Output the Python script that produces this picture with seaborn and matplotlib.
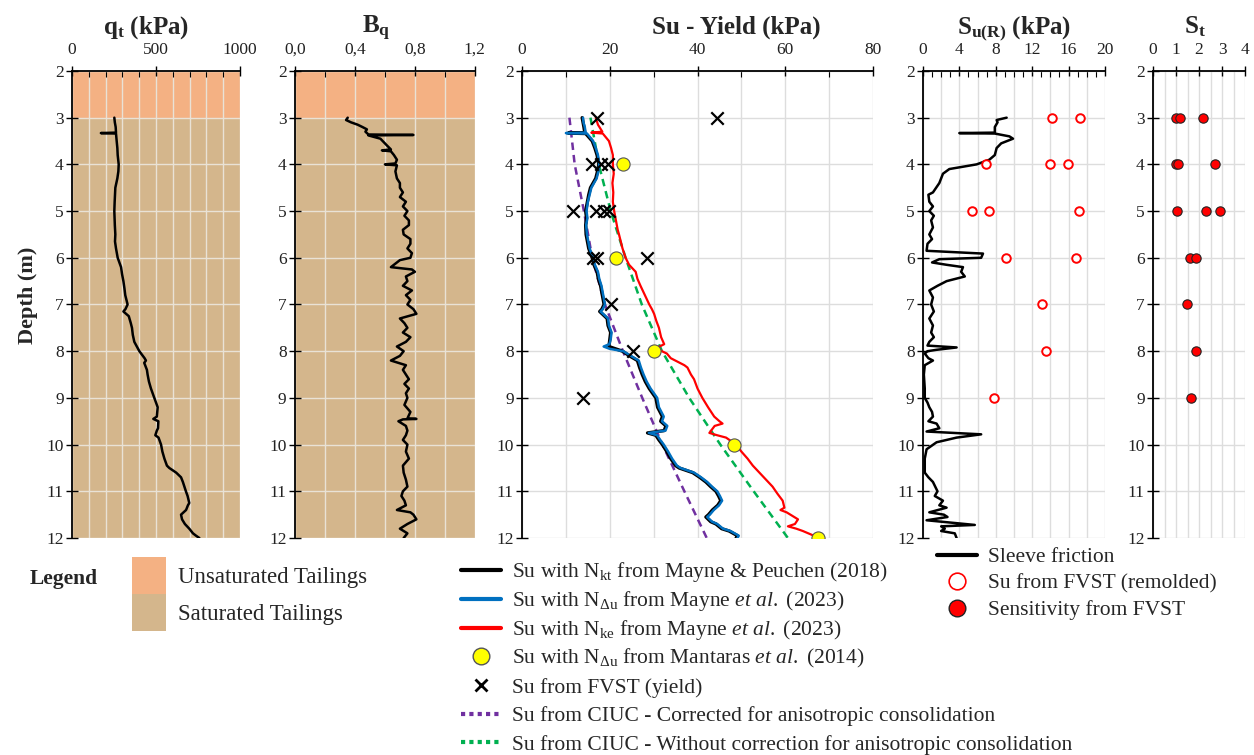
import matplotlib
matplotlib.use('Agg')
import matplotlib.pyplot as plt
import seaborn as sns
import numpy as np
from matplotlib.lines import Line2D
from matplotlib.patches import Patch

# ---- data (depth in m, value) ----
qt_kpa = [(3.0, 252), (3.1, 255), (3.2, 260), (3.32, 262), (3.33, 172), (3.34, 262), (3.5, 266),
          (3.65, 270), (3.8, 272), (4.0, 278), (4.15, 276), (4.3, 270), (4.5, 258), (4.8, 254),
          (5.0, 252), (5.3, 255), (5.5, 258), (5.65, 256), (5.8, 262), (6.0, 272), (6.2, 292),
          (6.35, 298), (6.5, 306), (6.65, 312), (6.8, 317), (7.0, 331), (7.1, 318), (7.15, 306),
          (7.25, 338), (7.4, 350), (7.5, 357), (7.65, 362), (7.8, 371), (8.0, 401), (8.15, 432),
          (8.2, 440), (8.25, 430), (8.4, 446), (8.5, 450), (8.65, 458), (8.8, 470), (9.0, 490),
          (9.2, 510), (9.4, 505), (9.45, 484), (9.5, 514), (9.65, 512), (9.7, 505), (9.8, 496),
          (9.85, 515), (10.0, 530), (10.15, 538), (10.3, 550), (10.45, 565), (10.5, 579),
          (10.6, 620), (10.7, 649), (10.8, 660), (10.9, 669), (11.0, 678), (11.1, 688),
          (11.25, 698), (11.3, 690), (11.4, 679), (11.5, 649), (11.6, 655), (11.7, 672),
          (11.8, 698), (11.9, 720), (11.95, 738), (12.0, 758)]

bq = [(3.0, 0.352), (3.05, 0.341), (3.1, 0.374), (3.15, 0.418), (3.2, 0.45), (3.25, 0.48),
      (3.3, 0.47), (3.36, 0.49), (3.37, 0.79), (3.38, 0.49), (3.45, 0.57), (3.55, 0.60),
      (3.6, 0.615), (3.68, 0.64), (3.7, 0.58), (3.72, 0.64), (3.8, 0.66), (3.9, 0.68),
      (3.98, 0.67), (4.0, 0.60), (4.02, 0.68), (4.15, 0.67), (4.3, 0.68), (4.4, 0.70),
      (4.5, 0.70), (4.6, 0.72), (4.7, 0.70), (4.8, 0.74), (4.9, 0.72), (5.0, 0.75),
      (5.1, 0.73), (5.2, 0.76), (5.3, 0.76), (5.4, 0.72), (5.5, 0.725), (5.6, 0.77),
      (5.7, 0.77), (5.8, 0.75), (5.9, 0.78), (6.0, 0.77), (6.05, 0.70), (6.1, 0.68),
      (6.15, 0.66), (6.2, 0.64), (6.25, 0.78), (6.3, 0.80), (6.4, 0.74), (6.5, 0.75),
      (6.6, 0.72), (6.7, 0.78), (6.8, 0.74), (6.9, 0.77), (7.0, 0.75), (7.1, 0.79),
      (7.2, 0.81), (7.3, 0.70), (7.4, 0.73), (7.5, 0.75), (7.6, 0.72), (7.7, 0.77),
      (7.8, 0.74), (7.9, 0.68), (8.0, 0.725), (8.1, 0.70), (8.2, 0.64), (8.3, 0.74),
      (8.4, 0.72), (8.5, 0.74), (8.6, 0.76), (8.7, 0.73), (8.8, 0.76), (8.9, 0.74),
      (9.0, 0.75), (9.15, 0.73), (9.3, 0.77), (9.44, 0.75), (9.45, 0.81), (9.46, 0.72),
      (9.5, 0.69), (9.6, 0.74), (9.7, 0.75), (9.8, 0.74), (9.9, 0.72), (10.0, 0.75),
      (10.15, 0.74), (10.3, 0.76), (10.45, 0.72), (10.6, 0.725), (10.75, 0.74), (10.9, 0.75),
      (11.0, 0.72), (11.1, 0.71), (11.2, 0.73), (11.3, 0.74), (11.4, 0.68), (11.45, 0.77),
      (11.5, 0.79), (11.6, 0.81), (11.65, 0.78), (11.7, 0.75), (11.8, 0.70), (11.9, 0.75),
      (12.0, 0.725)]

su_nkt = [(3.0, 13.7), (3.1, 13.9), (3.2, 14.1), (3.32, 14.3), (3.33, 10.5), (3.34, 14.5),
          (3.5, 16.0), (3.65, 16.6), (3.8, 17.1), (4.0, 17.5), (4.15, 17.2), (4.3, 16.8),
          (4.5, 15.6), (4.65, 15.2), (4.8, 14.9), (5.0, 14.5), (5.15, 14.7), (5.3, 14.5),
          (5.5, 14.6), (5.65, 14.9), (5.8, 15.2), (6.0, 16.0), (6.15, 16.4), (6.3, 17.1),
          (6.45, 17.4), (6.6, 17.9), (6.8, 18.3), (7.0, 18.7), (7.1, 18.2), (7.15, 17.7),
          (7.3, 19.4), (7.45, 19.6), (7.6, 20.2), (7.75, 20.0), (7.9, 19.8), (8.0, 22.9),
          (8.1, 24.5), (8.2, 26.3), (8.35, 26.8), (8.5, 27.4), (8.65, 28.1), (8.8, 29.0),
          (9.0, 30.5), (9.2, 30.9), (9.4, 32.0), (9.5, 31.6), (9.6, 32.8), (9.7, 32.4),
          (9.75, 28.6), (9.8, 30.5), (9.9, 31.2), (10.0, 32.0), (10.15, 33.0), (10.3, 33.9),
          (10.45, 35.0), (10.5, 35.8), (10.6, 38.9), (10.7, 40.5), (10.8, 41.9), (10.9, 43.0),
          (11.0, 44.2), (11.1, 44.8), (11.2, 45.3), (11.3, 44.6), (11.4, 43.4), (11.5, 42.5),
          (11.55, 41.9), (11.65, 43.0), (11.7, 44.2), (11.8, 45.5), (11.85, 47.2),
          (11.95, 49.1), (12.0, 48.8)]

su_ndu = [(3.0, 13.9), (3.1, 14.0), (3.2, 14.3), (3.32, 14.5), (3.33, 10.0), (3.34, 14.8),
          (3.5, 16.2), (3.65, 16.8), (3.8, 17.3), (4.0, 17.6), (4.15, 17.4), (4.3, 17.0),
          (4.5, 15.8), (4.65, 15.4), (4.8, 15.0), (5.0, 14.7), (5.15, 14.9), (5.3, 14.6),
          (5.5, 14.8), (5.65, 15.1), (5.8, 15.4), (6.0, 16.2), (6.15, 16.6), (6.3, 17.3),
          (6.45, 17.6), (6.6, 18.1), (6.8, 18.5), (7.0, 18.9), (7.1, 18.4), (7.15, 17.9),
          (7.3, 19.6), (7.45, 19.8), (7.6, 20.4), (7.75, 20.2), (7.85, 19.9), (7.9, 18.6),
          (7.95, 20.0), (8.0, 23.1), (8.1, 24.8), (8.2, 26.6), (8.35, 27.1), (8.5, 27.7),
          (8.65, 28.4), (8.8, 29.3), (9.0, 30.8), (9.2, 31.2), (9.4, 32.3), (9.5, 31.9),
          (9.6, 33.1), (9.7, 32.7), (9.75, 28.9), (9.8, 30.8), (9.9, 31.5), (10.0, 32.3),
          (10.15, 33.3), (10.3, 34.2), (10.45, 35.3), (10.5, 36.1), (10.6, 39.2), (10.7, 40.8),
          (10.8, 42.2), (10.9, 43.3), (11.0, 44.5), (11.1, 45.1), (11.2, 45.6), (11.3, 44.9),
          (11.4, 43.7), (11.5, 42.8), (11.55, 42.2), (11.65, 43.3), (11.7, 44.5), (11.8, 45.8),
          (11.85, 47.5), (11.95, 49.4), (12.0, 49.1)]

su_nke = [(3.0, 16.8), (3.15, 17.3), (3.3, 18.3), (3.32, 15.8), (3.34, 18.4), (3.5, 19.8),
          (3.65, 20.3), (3.8, 20.7), (4.0, 20.7), (4.2, 20.9), (4.4, 20.6), (4.6, 20.8),
          (4.8, 20.7), (5.0, 21.0), (5.2, 21.4), (5.4, 21.8), (5.5, 22.1), (5.65, 22.5),
          (5.8, 22.9), (6.0, 23.6), (6.15, 24.4), (6.3, 25.9), (6.45, 26.3), (6.6, 27.0),
          (6.8, 28.0), (7.0, 29.0), (7.1, 29.6), (7.2, 30.1), (7.35, 30.6), (7.5, 31.2),
          (7.7, 31.7), (7.85, 32.4), (7.92, 30.9), (7.97, 31.2), (8.05, 33.0), (8.15, 33.9),
          (8.3, 37.0), (8.35, 37.7), (8.5, 38.5), (8.6, 39.2), (8.8, 40.0), (9.0, 41.1),
          (9.2, 42.4), (9.4, 43.8), (9.5, 45.0), (9.55, 45.7), (9.6, 43.9), (9.75, 42.7),
          (9.8, 44.5), (9.85, 46.5), (10.0, 48.8), (10.15, 50.0), (10.3, 51.4), (10.45, 52.6),
          (10.6, 54.1), (10.75, 55.6), (10.9, 57.1), (11.05, 58.2), (11.2, 59.4), (11.35, 59.8),
          (11.4, 58.9), (11.45, 60.3), (11.6, 62.9), (11.7, 62.2), (11.75, 60.6), (11.8, 62.5),
          (11.85, 64.0), (11.95, 66.5), (12.0, 67.4)]

ciuc_corr = [(3.0, 10.8), (4.0, 12.0), (5.0, 14.1), (6.0, 16.0), (7.0, 18.9),
             (8.0, 23.0), (9.0, 27.4), (10.0, 32.0), (11.0, 37.0), (12.0, 42.1)]
ciuc_nocorr = [(3.0, 15.6), (4.0, 17.5), (5.0, 20.2), (6.0, 23.6), (7.0, 27.3),
               (8.0, 31.9), (9.0, 38.1), (10.0, 45.2), (11.0, 52.8), (12.0, 60.6)]

mantaras_depth = [4, 6, 8, 10, 12]
mantaras_su = [23.0, 21.5, 30.0, 48.3, 67.5]

fvst_depth = [3, 3, 4, 4, 4, 5, 5, 5, 5, 6, 6, 6, 7, 8, 9]
fvst_su = [17.0, 44.5, 15.9, 18.1, 19.5, 11.6, 16.9, 18.7, 19.9, 16.2, 17.0, 28.5, 20.2, 25.2, 13.8]

remold_depth = [3, 3, 4, 4, 4, 5, 5, 5, 6, 6, 7, 8, 9]
remold_su = [14.2, 17.3, 6.9, 14.0, 15.9, 5.4, 7.3, 17.1, 9.1, 16.8, 13.1, 13.5, 7.8]

sleeve = [(3.0, 9.2), (3.05, 8.1), (3.1, 8.2), (3.2, 7.9), (3.32, 7.9), (3.33, 4.0), (3.34, 7.9),
          (3.4, 9.5), (3.45, 9.9), (3.55, 8.6), (3.65, 8.1), (3.8, 7.9), (3.9, 7.3), (4.0, 5.9),
          (4.05, 4.4), (4.1, 2.9), (4.2, 2.2), (4.4, 1.8), (4.6, 1.1), (4.65, 0.6), (4.8, 0.7),
          (4.9, 1.1), (5.0, 0.7), (5.1, 1.2), (5.2, 0.9), (5.35, 1.1), (5.5, 0.7), (5.6, 1.0),
          (5.7, 0.5), (5.85, 0.4), (5.91, 6.6), (6.0, 6.4), (6.03, 1.8), (6.1, 1.0), (6.15, 2.6),
          (6.2, 4.4), (6.3, 4.2), (6.4, 4.6), (6.5, 2.6), (6.6, 1.6), (6.7, 0.7), (6.85, 1.1),
          (7.0, 0.9), (7.15, 1.2), (7.3, 0.7), (7.45, 1.1), (7.6, 0.9), (7.7, 1.2), (7.8, 0.7),
          (7.88, 0.5), (7.92, 3.7), (7.97, 1.5), (8.0, 0.5), (8.05, 0.2), (8.15, 0.6), (8.2, 1.1),
          (8.3, 0.2), (8.5, 0.1), (8.8, 0.2), (9.0, 0.2), (9.1, 0.5), (9.2, 0.7), (9.3, 1.0),
          (9.4, 1.1), (9.5, 0.6), (9.55, 1.5), (9.65, 1.8), (9.72, 0.4), (9.78, 6.4), (9.85, 3.7),
          (9.95, 1.5), (10.1, 0.4), (10.3, 0.2), (10.6, 0.2), (10.7, 0.6), (10.8, 1.1), (11.0, 1.6),
          (11.1, 1.3), (11.2, 2.2), (11.3, 1.8), (11.35, 2.6), (11.45, 0.7), (11.5, 2.3),
          (11.55, 2.7), (11.62, 0.4), (11.72, 5.7), (11.75, 2.0), (11.8, 2.4), (11.85, 2.0),
          (11.9, 3.5), (12.0, 3.7)]

st_depth = [3, 3, 3, 4, 4, 4, 5, 5, 5, 6, 6, 7, 8, 9]
st_value = [0.99, 1.16, 2.15, 0.99, 1.1, 2.69, 1.06, 2.3, 2.91, 1.6, 1.85, 1.48, 1.85, 1.67]

C_UNSAT = '#F4B183'
C_SAT = '#D4B68C'
C_BLUE = '#0070C0'
C_RED = '#FF0000'
C_GREEN = '#00B050'
C_PURPLE = '#7030A0'
DASH = (0, (3, 2))

sns.set_theme(style='white')
plt.rcParams['font.family'] = ['Liberation Serif', 'DejaVu Serif']
plt.rcParams['mathtext.fontset'] = 'custom'
plt.rcParams['mathtext.rm'] = 'Liberation Serif'
plt.rcParams['mathtext.it'] = 'Liberation Serif:italic'
plt.rcParams['mathtext.bf'] = 'Liberation Serif:bold'


def profile(ax, pairs, **kw):
    arr = np.array(pairs)
    sns.lineplot(x=arr[:, 1], y=arr[:, 0], sort=False, estimator=None, ax=ax, **kw)


def style_axis(ax, xmax, major, minor, title, title_x, grid_color, labels=None):
    ax.set_ylim(12, 2)
    ax.set_xlim(0, xmax)
    ax.set_yticks(range(2, 13))
    ax.set_xticks(np.arange(0, xmax + 1e-9, major))
    ax.set_xticks(np.arange(0, xmax + 1e-9, minor), minor=True)
    if labels is not None:
        ax.set_xticklabels(labels)
    ax.xaxis.tick_top()
    ax.set_xlabel('')
    ax.set_ylabel('')
    for s in ['right', 'bottom']:
        ax.spines[s].set_visible(False)
    for s in ['top', 'left']:
        ax.spines[s].set_color('black')
        ax.spines[s].set_linewidth(1.3)
    ax.tick_params(axis='x', which='major', direction='inout', length=7, width=1,
                   top=True, bottom=False, labelsize=12.5, pad=6, colors='black',
                   labelcolor='#222222')
    ax.tick_params(axis='x', which='minor', direction='in', length=4, width=0.8,
                   top=True, bottom=False, colors='black')
    ax.tick_params(axis='y', which='major', direction='inout', length=8, width=1,
                   left=True, labelsize=12.5, pad=2, colors='black', labelcolor='#222222')
    ax.grid(True, which='both', color=grid_color, lw=1)
    ax.set_axisbelow(True)
    # panel title placed at a fixed offset above the top spine
    ax.annotate(title, xy=(title_x, 1.0), xycoords='axes fraction', xytext=(0, 27),
                textcoords='offset points', ha='center', va='baseline',
                fontsize=18, fontweight='bold', annotation_clip=False)
    if ax.get_legend() is not None:
        ax.get_legend().remove()


fig = plt.figure(figsize=(12.54, 7.55), dpi=100)
bottom, height = 0.2874, 0.6186
ax1 = fig.add_axes([0.0574, bottom, 0.1340, height])
ax2 = fig.add_axes([0.2352, bottom, 0.1435, height])
ax3 = fig.add_axes([0.4163, bottom, 0.2799, height])
ax4 = fig.add_axes([0.7360, bottom, 0.1451, height])
ax5 = fig.add_axes([0.9195, bottom, 0.0734, height])

# qt and Bq panels with tailings background
for ax in (ax1, ax2):
    ax.axhspan(2, 3, color=C_UNSAT, lw=0, zorder=0)
    ax.axhspan(3, 12, color=C_SAT, lw=0, zorder=0)
profile(ax1, qt_kpa, color='black', lw=1.8)
style_axis(ax1, 1000, 500, 100, r'$\mathbf{q_t}$ (kPa)', 0.44, '#E9E2D6')
ax1.set_ylabel('Depth (m)', fontsize=16, fontweight='bold')
ax1.yaxis.set_label_coords(-0.20, 0.52)

profile(ax2, bq, color='black', lw=1.8)
style_axis(ax2, 1.2, 0.4, 0.2, r'$\mathbf{B_q}$', 0.45, '#E9E2D6',
           labels=['0,0', '0,4', '0,8', '1,2'])

# Su - yield panel
profile(ax3, ciuc_corr, color=C_PURPLE, lw=1.8, linestyle=DASH)
profile(ax3, ciuc_nocorr, color=C_GREEN, lw=1.8, linestyle=DASH)
profile(ax3, su_nke, color=C_RED, lw=1.6)
profile(ax3, su_nkt, color='black', lw=2.4)
profile(ax3, su_ndu, color=C_BLUE, lw=1.8)
sns.scatterplot(x=mantaras_su, y=mantaras_depth, ax=ax3, color='#FFFF00', edgecolor='#555555',
                linewidth=0.8, s=90, zorder=5)
sns.scatterplot(x=fvst_su, y=fvst_depth, ax=ax3, marker='x', color='black', linewidth=1.6,
                s=80, zorder=6)
style_axis(ax3, 80, 20, 10, 'Su - Yield (kPa)', 0.61, '#DDDDDD')

# remolded Su panel
profile(ax4, sleeve, color='black', lw=1.8)
sns.scatterplot(x=remold_su, y=remold_depth, ax=ax4, facecolor='white', edgecolor=C_RED,
                linewidth=1.4, s=38, zorder=5)
style_axis(ax4, 20, 4, 2, r'$\mathbf{S_{u(R)}}$ (kPa)', 0.50, '#DDDDDD')
ax4.set_xticks(np.arange(0, 20.01, 1), minor=True)
ax4.grid(False, which='minor')
ax4.grid(True, which='major', color='#DDDDDD', lw=1)
for x in np.arange(2, 20, 4):
    ax4.axvline(x, color='#DDDDDD', lw=1, zorder=0.5)

# sensitivity panel
sns.scatterplot(x=st_value, y=st_depth, ax=ax5, color=C_RED, edgecolor='#222222',
                linewidth=0.8, s=45, zorder=5)
style_axis(ax5, 4, 1, 0.5, r'$\mathbf{S_t}$', 0.46, '#DDDDDD')
ax5.tick_params(axis='x', which='minor', length=0)

# legends
fig.text(0.024, 0.226, 'Legend', fontsize=15.5, fontweight='bold')
fig.legend(handles=[Patch(facecolor=C_UNSAT, edgecolor='none'),
                    Patch(facecolor=C_SAT, edgecolor='none')],
           labels=['Unsaturated Tailings', 'Saturated Tailings'],
           loc='upper left', bbox_to_anchor=(0.096, 0.277), frameon=False, fontsize=16.5,
           handlelength=1.5, handleheight=2.1, labelspacing=0.0, borderpad=0,
           handletextpad=0.5)

method_handles = [
    Line2D([], [], color='black', lw=3),
    Line2D([], [], color=C_BLUE, lw=3),
    Line2D([], [], color=C_RED, lw=3),
    Line2D([], [], ls='none', marker='o', markersize=12, markerfacecolor='#FFFF00',
           markeredgecolor='#555555'),
]
method_labels = [
    r'Su with N$_{\mathrm{kt}}$ from Mayne & Peuchen (2018)',
    r'Su with N$_{\Delta\mathrm{u}}$ from Mayne $\mathit{et\ al.}$ (2023)',
    r'Su with N$_{\mathrm{ke}}$ from Mayne $\mathit{et\ al.}$ (2023)',
    r'Su with N$_{\Delta\mathrm{u}}$ from Mantaras $\mathit{et\ al.}$ (2014)',
]
lab_handles = [
    Line2D([], [], ls='none', marker='x', markersize=8, color='black', markeredgewidth=2),
    Line2D([], [], color=C_PURPLE, lw=3, ls=(0, (1, 1))),
    Line2D([], [], color=C_GREEN, lw=3, ls=(0, (1, 1))),
]
lab_labels = [
    'Su from FVST (yield)',
    'Su from CIUC - Corrected for anisotropic consolidation',
    'Su from CIUC - Without correction for anisotropic consolidation',
]
fig.legend(handles=method_handles, labels=method_labels, loc='upper left',
           bbox_to_anchor=(0.3588, 0.272), frameon=False, fontsize=15.5,
           handlelength=1.85, labelspacing=0.225, borderpad=0, handletextpad=0.55)
fig.legend(handles=lab_handles, labels=lab_labels, loc='upper left',
           bbox_to_anchor=(0.3588, 0.1163), frameon=False, fontsize=15.5,
           handlelength=1.85, labelspacing=0.38, borderpad=0, handletextpad=0.55)

r_handles = [
    Line2D([], [], color='black', lw=3),
    Line2D([], [], ls='none', marker='o', markersize=12, markerfacecolor='white',
           markeredgecolor=C_RED, markeredgewidth=1.2),
    Line2D([], [], ls='none', marker='o', markersize=12, markerfacecolor=C_RED,
           markeredgecolor='#222222'),
]
fig.legend(handles=r_handles,
           labels=['Sleeve friction', 'Su from FVST (remolded)', 'Sensitivity from FVST'],
           loc='upper left', bbox_to_anchor=(0.7386, 0.2893), frameon=False, fontsize=15.5,
           handlelength=1.85, labelspacing=0.3, borderpad=0, handletextpad=0.5)

fig.savefig('out.png', dpi=100)
plt.close(fig)
